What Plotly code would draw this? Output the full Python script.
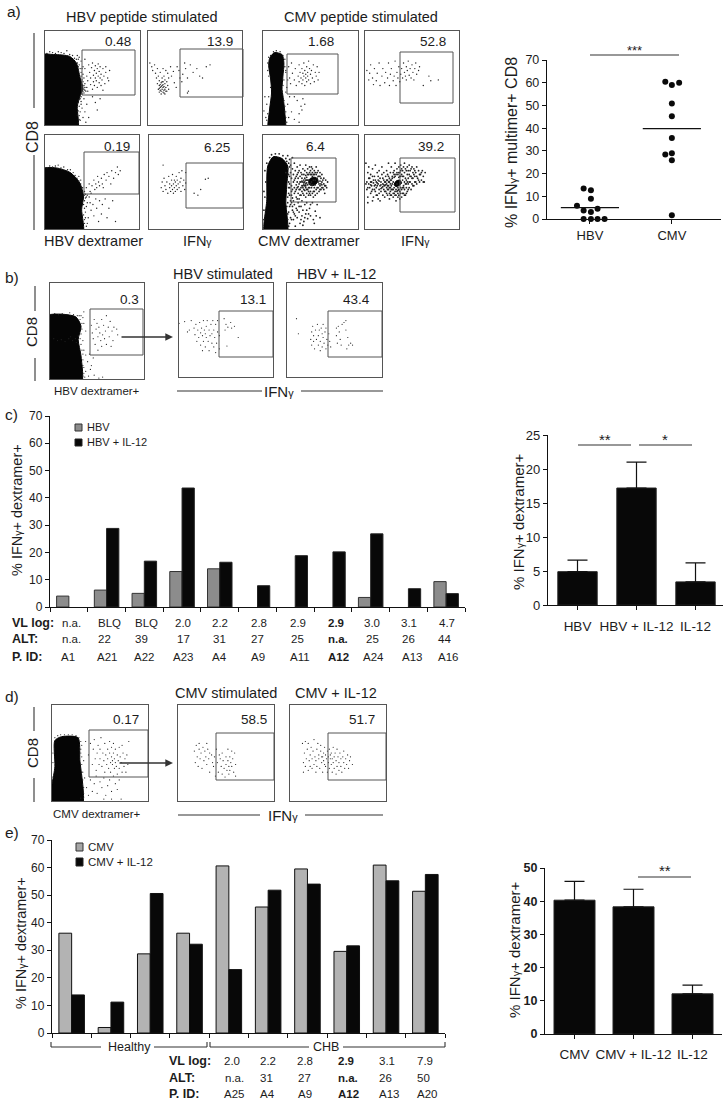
import plotly.graph_objects as go

W, H = 728, 1103
FONT = "Liberation Sans"
INK = "#1c1c1c"

# ---------- bar / scatter data ----------
C_CATS = list(range(11))
C_HBV = [4, 6.2, 5, 13, 14, None, None, None, 3.5, None, 9.3]
C_IL12 = [None, 28.8, 16.8, 43.6, 16.4, 7.8, 18.8, 20.2, 26.8, 6.7, 4.9]
E_CATS = list(range(10))
E_CMV = [36.2, 2, 28.7, 36.2, 60.6, 45.7, 59.5, 29.6, 60.9, 51.4]
E_IL12 = [13.8, 11.2, 50.6, 32.2, 23, 51.8, 54, 31.6, 55.2, 57.5]
C2_LABELS = ["HBV", "HBV + IL-12", "IL-12"]
C2_MEAN = [4.9, 17.2, 3.4]
C2_ERR = [1.7, 3.8, 2.8]
E2_LABELS = ["CMV", "CMV + IL-12", "IL-12"]
E2_MEAN = [40.3, 38.3, 12.1]
E2_ERR = [5.7, 5.3, 2.6]
HBV_X = [-0.077, 0.012, 0.012, -0.158, -0.077, 0.093, 0.012, -0.077, 0.012, 0.093, 0.179]
HBV_Y = [13.4, 12.7, 8.9, 5.8, 3.7, 4.5, 3.1, 0, 0, 0, 0]
CMV_X = [0.92, 1.0, 1.089, 1.0, 1.0, 1.0, 1.0, 0.92, 1.0, 1.0]
CMV_Y = [60.4, 59, 60, 50.9, 45.2, 35.7, 29, 28.4, 25.9, 1.6]
HBV_MEAN, CMV_MEAN = 5, 39.8

# table rows: (x px, text)
C_VL = [(71,"n.a."),(109,"BLQ"),(146,"BLQ"),(183,"2.0"),(220,"2.2"),(259,"2.8"),(298,"2.9"),(336,"<b>2.9</b>"),(372,"3.0"),(409,"3.1"),(447,"4.7")]
C_ALT = [(71,"n.a."),(104,"22"),(141,"39"),(183,"17"),(219,"31"),(257,"27"),(297,"25"),(338,"<b>n.a.</b>"),(372,"25"),(408,"26"),(444,"44")]
C_PID = [(68,"A1"),(107,"A21"),(144,"A22"),(183,"A23"),(219,"A4"),(258,"A9"),(300,"A11"),(338,"<b>A12</b>"),(374,"A24"),(412,"A13"),(448,"A16")]
E_VL = [(232,"2.0"),(268,"2.2"),(305,"2.8"),(346,"<b>2.9</b>"),(387,"3.1"),(425,"7.9")]
E_ALT = [(234,"n.a."),(266,"31"),(304,"27"),(348,"<b>n.a.</b>"),(385,"26"),(423,"50")]
E_PID = [(234,"A25"),(267,"A4"),(305,"A9"),(348,"<b>A12</b>"),(389,"A13"),(427,"A20")]

# ---------- flow cytometry read-offs (percent of panel width / height) ----------
P1_BLOB = [(-6,74),(9,75),(26,73),(33,66),(37,50),(40,39),(37,31),(34,20),(34,-6),(-6,-6)]
P3_BLOB = [(7,71),(12,77),(20,75),(22,66),(21,52),(20,38),(21,31),(23,13),(23,-6),(6,-6),(7,17),(9,34),(8,49),(6,63)]
P5_BLOB = [(-6,63),(12,65),(27,60),(37,49),(41,35),(39,21),(40,-6),(-6,-6)]
P7_BLOB = [(5,67),(11,77),(20,75),(26,67),(25,46),(24,28),(25,-6),(2,-6),(4,31)]
B1_BLOB = [(-6,65),(27,65),(33,55),(30,41),(33,24),(33,-6),(-6,-6)]
D1_BLOB = [(3,63),(10,67),(27,66),(29,43),(31,-6),(-1,-6),(3,36)]
P7_CORE = [(48,50),(50,54),(55,55),(58,52),(56,48),(52,46),(49,47)]
P8_CORE = [(31,47),(33,51),(37,52),(39,49),(36,46),(33,45)]

P1_DOTS = [(42,60),(44,52),(45,47),(46,64),(47,56),(48,43),(48,50),(49,61),(50,38),(50,66),(51,53),(51,46),(52,58),(52,42),(53,63),(53,50),(54,55),(54,47),(55,60),(55,40),(56,52),(56,65),(57,45),(57,57),(58,50),(58,62),(59,42),(59,54),(60,48),(61,60),(61,37),(62,52),(63,44),(64,56),(64,62),(66,50),(67,47),(68,58),(41,28),(44,22),(42,14),(46,8),(50,30),(53,24),(55,16),(58,28),(40,8),(43,3),(36,72),(34,74),(38,68),(42,70),(40,62),(38,56),(41,50),(42,44),(43,36),(41,34),(36,10),(37,5),(39,18),(38,25),(35,70),(39,60),(40,54),(44,40),(45,36),(42,37),(37,28),(38,22),
 (2,76),(5,78),(8,77),(11,76),(14,78),(17,77),(20,76),(23,79),(26,75),(29,74),(31,71),(33,70),(34,66),(36,64),(37,60),(35,62),(38,52),(39,48),(40,46),(41,42),(42,40),(40,36),(39,33),(38,30),(36,27),(35,24),(36,20),(35,15),(36,6),(35,2),(37,14),(34,10),(39,41),(41,38)]
P2_DOTS = [(2,66),(4,62),(5,58),(7,64),(8,55),(9,50),(10,60),(10,44),(11,38),(11,52),(12,42),(12,35),(12,47),(13,56),(13,40),(14,45),(14,36),(14,33),(15,50),(15,42),(15,38),(16,46),(16,35),(16,60),(17,41),(17,37),(17,52),(18,44),(18,33),(18,48),(19,40),(19,58),(20,36),(20,46),(21,42),(21,55),(22,38),(22,50),(24,62),(25,52),(27,57),(28,45),(30,40),(31,62),(33,58),(34,50),(36,46),(37,54),(39,66),(40,60),(42,50),(43,36),(45,64),(42,34),(52,60),(55,52),(62,62),(66,64),(58,50),(48,56),
 (13,43),(13,37),(15,46),(16,40),(17,34),(14,41),(18,38),(16,43),(19,36),(12,39)]
P3_DOTS = [(27,62),(28,50),(29,44),(30,66),(31,55),(33,48),(34,60),(35,42),(37,52),(38,64),(38,46),(39,56),(40,50),(41,60),(41,44),(42,55),(42,48),(43,66),(43,52),(44,58),(44,42),(45,50),(45,54),(46,46),(46,62),(47,56),(47,52),(48,48),(48,68),(49,60),(50,44),(50,54),(51,58),(52,50),(53,64),(54,46),(55,56),(56,52),(57,62),(58,48),(59,56),(28,30),(26,22),(30,14),(33,6),(36,26),(38,12),(40,20),(42,28),(41,16),(44,22),(27,8),(24,35),(25,40),(26,48),(24,56),(2,30),(1,15),(3,8),(33,30),(38,3),
 (5,66),(6,72),(8,74),(11,78),(14,79),(18,78),(21,74),(23,70),(23,62),(24,58),(22,48),(21,42),(20,36),(22,26),(23,20),(24,14),(24,8),(25,3),(4,22),(5,12),(4,5),(6,30),(8,40),(6,52),(5,58)]
P4_DOTS = [(2,58),(4,48),(6,64),(8,50),(10,60),(12,47),(13,55),(15,66),(16,42),(18,52),(19,60),(21,45),(22,56),(24,50),(25,66),(26,42),(27,54),(28,60),(30,47),(31,52),(32,68),(33,42),(34,56),(35,50),(36,62),(37,46),(38,54),(39,60),(40,50),(41,66),(42,56),(43,52),(44,62),(44,48),(45,58),(46,68),(47,53),(48,60),(49,50),(50,64),(51,56),(52,48),(53,60),(54,66),(55,54),(57,58),(58,62),(62,42),(70,47),(78,48),(68,52),(5,55),(9,43)]
P5_DOTS = [(42,40),(44,44),(45,36),(47,48),(48,40),(49,38),(50,46),(52,52),(53,42),(54,48),(55,44),(56,56),(57,50),(58,46),(60,54),(61,48),(62,44),(63,58),(65,52),(66,60),(68,56),(70,48),(71,62),(73,54),(75,60),(77,66),(78,58),(80,62),(42,30),(44,24),(43,18),(46,12),(45,6),(48,28),(49,20),(51,26),(52,14),(54,32),(55,22),(57,8),(58,30),(60,16),(61,26),(64,32),(66,12),(68,22),(72,30),(75,8),(43,33),(41,36),(40,44),(38,52),(36,56),(42,10),(44,3),(47,34),
 (2,65),(5,67),(8,66),(11,67),(14,68),(17,65),(20,66),(24,63),(27,63),(30,60),(32,57),(34,54),(36,51),(38,48),(39,44),(42,36),(43,37),(44,34),(41,26),(42,22),(41,15),(42,6),(43,12),(45,28)]
P6_DOTS = [(13,44),(14,50),(15,40),(16,54),(17,46),(18,42),(19,50),(20,38),(21,56),(22,44),(22,48),(23,40),(24,52),(24,46),(25,42),(25,58),(26,48),(26,38),(27,52),(27,44),(28,50),(28,40),(29,46),(29,56),(30,42),(30,52),(31,48),(32,60),(32,44),(33,50),(34,40),(34,54),(35,62),(36,46),(37,52),(38,42),(39,60),(39,49),(15,68),(52,36),(55,42),(60,53),(63,54),(48,38)]
P7_DOTS = [(26,64),(27,58),(27,50),(28,44),(28,36),(29,68),(29,60),(30,54),(30,46),(30,40),(31,33),(31,64),(32,50),(32,58),(33,44),(33,38),(33,70),(34,54),(34,62),(35,47),(35,34),(35,42),(36,58),(36,66),(36,50),(37,38),(37,45),(37,54),(38,62),(38,32),(38,48),(39,42),(39,56),(39,68),(40,50),(40,36),(40,60),(41,46),(41,54),(41,40),(41,30),(42,64),(42,50),(42,44),(43,58),(43,36),(43,52),(43,47),(44,62),(44,41),(44,54),(45,48),(45,34),(45,68),(45,44),(45,57),(46,52),(46,38),(46,60),(47,42),(47,47),(47,64),(48,36),(48,58),(48,40),(49,60),(49,38),(49,66),(50,40),(50,62),(50,36),(51,58),(51,44),(51,66),(52,38),(52,60),(52,64),(53,40),(53,34),(54,62),(54,40),(55,36),(55,60),(56,42),(56,66),(57,38),(57,60),(58,44),(58,62),(59,40),(59,56),(60,60),(60,46),(61,42),(61,54),(62,50),(62,58),(63,44),(64,54),(64,48),(65,38),(66,52),(67,44),(68,50),(26,28),(28,24),(27,18),(29,12),(28,6),(30,28),(31,20),(32,10),(33,26),(33,16),(34,3),(35,22),(36,12),(37,28),(38,18),(39,6),(40,24),(41,14),(42,20),(43,8),(44,26),(45,16),(46,28),(47,11),(49,22),(50,14),(52,28),(54,6),(55,19),(57,26),(60,12),(28,48),(27,38),(29,30),(25,72),(26,78),(28,74),(31,76),(1,20),(1,40),(2,62),
 (4,70),(7,76),(9,79),(13,80),(17,80),(21,78),(24,75),(27,70),(28,66),(28,56),(27,44),(26,34),(25,24),(26,16),(26,10),(27,3),(3,50),(2,34),(1,10),(24,60),(44,50),(46,55),(48,52),(43,49),(45,46),(49,44),(52,47),(55,47),(58,50),(60,56),(53,58),(50,58),(47,58),(42,46),(41,51),(62,47),(60,51),(57,54),(46,49),
 (30,36),(31,42),(32,30),(33,52),(34,40),(35,56),(36,44),(36,32),(37,60),(38,42),(39,36),(39,50),(40,44),(41,58),(42,38),(43,42),(44,46),(45,52),(46,42),(47,52),(48,44),(49,48),(50,48),(51,50),(52,56),(53,52),(54,44),(54,58),(55,52),(56,58),(57,44),(58,56),(59,48),(60,42),(61,48),(62,44),(63,52),(64,42),(65,46),(66,46),(29,26),(30,10),(31,24),(32,18),(34,14),(36,20),(38,24),(40,10),(42,4),(44,12),(46,20),(48,16),(50,26),(53,10),(56,14)]
P8_DOTS = [(1,70),(2,50),(2,42),(3,60),(3,34),(4,48),(4,66),(5,44),(5,54),(6,38),(6,58),(7,46),(7,50),(8,64),(8,42),(9,52),(9,34),(10,46),(10,56),(11,40),(11,68),(12,50),(12,44),(13,60),(13,36),(14,48),(14,52),(15,42),(15,62),(16,46),(16,54),(16,30),(17,50),(17,40),(18,58),(18,44),(18,66),(19,48),(19,36),(20,52),(20,42),(20,60),(21,46),(21,34),(22,50),(22,56),(22,40),(23,44),(23,62),(23,48),(24,36),(24,52),(24,58),(25,42),(25,46),(25,70),(26,50),(26,32),(26,54),(27,40),(27,60),(27,44),(28,52),(28,36),(28,66),(29,56),(29,42),(29,48),(30,60),(30,34),(30,50),(31,38),(31,58),(31,62),(32,40),(32,56),(32,70),(33,36),(33,58),(33,30),(34,60),(34,40),(34,64),(35,38),(35,58),(35,44),(36,66),(36,36),(36,60),(37,40),(37,56),(37,32),(38,62),(38,38),(38,68),(39,42),(39,58),(39,34),(40,62),(40,44),(40,52),(41,38),(41,66),(41,56),(42,42),(42,60),(42,70),(43,48),(43,54),(43,36),(44,62),(44,44),(44,52),(45,66),(45,40),(45,58),(46,48),(46,62),(46,54),(47,44),(47,68),(47,58),(48,50),(48,62),(49,42),(49,56),(50,66),(50,48),(51,60),(51,54),(52,46),(52,64),(53,56),(53,50),(54,60),(55,48),(55,66),(56,54),(57,62),(58,50),(59,58),(60,52),(61,62),(62,56),(63,50),(64,60),(3,28),(8,30),(14,32),
 (6,47),(9,49),(11,47),(13,49),(15,51),(17,47),(19,45),(21,50),(23,52),(25,50),(27,48),(28,46),(41,46),(42,50),(44,48),(29,54),(30,42),(35,41),(36,55),(38,56),(40,56),(31,55),(27,52),(24,46),(26,44),(22,47),
 (1,48),(3,44),(4,54),(6,50),(7,40),(8,56),(10,42),(11,52),(12,36),(13,46),(14,56),(15,38),(17,43),(19,54),(20,47),(21,40),(23,38),(24,42),(25,56),(26,38),(27,36),(28,42),(30,38),(31,44),(32,36),(33,42),(34,48),(35,34),(36,42),(37,60),(38,44),(39,64),(40,38),(41,44),(42,36),(43,64),(44,38),(45,50),(46,42),(47,50),(48,56),(49,64),(50,54),(51,46),(52,58),(53,62),(54,50),(55,56),(57,52),(58,58),(60,60),(62,50)]
B1_DOTS = [(36,58),(38,50),(44,56),(45,48),(46,42),(47,62),(48,36),(49,52),(50,58),(51,44),(51,30),(52,54),(53,48),(54,40),(55,62),(55,34),(56,46),(57,56),(58,42),(59,50),(60,66),(60,36),(62,54),(63,44),(64,60),(65,34),(66,50),(67,40),(68,54),(71,52),(72,46),(35,40),(36,30),(38,25),(40,18),(42,26),(44,14),(46,22),(38,8),(41,3),(43,10),(47,4),(36,12),(37,2),(56,2),(52,1),(35,64),(33,66),(31,66),(36,70),
 (2,67),(5,68),(9,67),(13,68),(17,67),(21,69),(25,67),(29,66),(32,62),(34,58),(34,52),(33,47),(32,42),(33,36),(34,30),(35,26),(35,20),(35,14),(36,6),(35,3),(30,45),(27,42),(24,40),(20,42),(16,39),(12,41),(8,40),(4,42),(28,38),(22,44)]
B2_DOTS = [(0,57),(6,59),(9,48),(11,50),(13,60),(16,52),(17,45),(18,56),(19,38),(20,50),(21,42),(22,58),(23,47),(23,34),(24,52),(25,28),(25,44),(26,60),(26,38),(27,50),(28,46),(28,32),(29,42),(29,54),(30,60),(31,38),(32,50),(32,28),(33,44),(34,56),(35,36),(35,46),(36,60),(37,32),(37,50),(38,42),(39,26),(39,56),(40,36),(41,48),(41,60),(43,44),(43,30),(48,62),(49,50),(50,56),(52,53),(55,58),(56,52),(59,54),(51,33),(63,42)]
B3_DOTS = [(10,62),(12,46),(25,40),(26,48),(26,34),(27,54),(28,44),(28,38),(29,30),(30,50),(31,40),(32,56),(33,44),(33,34),(34,50),(35,38),(35,28),(36,52),(37,46),(37,32),(38,42),(38,56),(39,36),(40,48),(41,30),(41,52),(42,40),(43,34),(44,46),(45,38),(46,32),(52,44),(52,52),(53,36),(54,54),(55,48),(56,40),(57,34),(58,56),(60,58),(62,50),(64,42),(65,34),(67,36),(62,60),(69,34),(63,30)]
D1_DOTS = [(30,50),(31,58),(33,42),(35,62),(38,48),(40,60),(42,38),(43,54),(44,64),(45,44),(46,32),(47,50),(48,58),(49,38),(50,54),(50,44),(51,66),(52,36),(53,50),(54,42),(55,60),(55,30),(56,48),(57,38),(58,54),(58,44),(59,34),(60,62),(60,50),(61,40),(61,30),(62,46),(62,56),(63,38),(63,42),(64,50),(64,60),(65,34),(65,44),(66,40),(66,54),(67,36),(68,48),(68,28),(69,42),(70,56),(70,34),(71,46),(72,40),(73,58),(73,30),(74,50),(75,36),(76,44),(77,30),(78,48),(79,38),(80,62),(34,24),(36,14),(38,6),(40,22),(42,10),(44,18),(46,26),(47,8),(50,20),(52,14),(54,24),(56,6),(58,16),(60,22),(62,10),(64,26),(66,18),(68,12),(70,22),(54,2),(62,2),(72,2),(33,4),(30,3),
 (3,66),(6,68),(9,69),(13,69),(17,69),(21,69),(25,68),(28,66),(30,62),(30,54),(31,46),(31,38),(32,30),(32,22),(33,14),(33,8),(1,40),(1,25),(1,50)]
D2_DOTS = [(17,52),(18,40),(19,58),(20,46),(21,36),(22,54),(22,60),(23,44),(24,50),(25,34),(26,56),(27,42),(28,52),(29,46),(30,38),(30,60),(31,54),(32,44),(33,30),(33,50),(35,48),(36,40),(37,36),(38,46),(39,26),(40,54),(41,40),(42,30),(43,48),(44,44),(45,36),(46,28),(46,50),(47,42),(48,34),(49,25),(50,46),(50,38),(51,32),(52,54),(52,42),(53,36),(53,28),(54,46),(54,32),(55,40),(56,52),(56,36),(57,44),(58,30),(59,50),(60,38),(60,26)]
D3_DOTS = [(13,60),(14,30),(14,40),(15,50),(16,36),(16,62),(17,44),(18,54),(19,32),(19,60),(20,42),(21,48),(21,36),(22,56),(23,34),(23,44),(24,52),(25,38),(25,64),(26,46),(27,30),(27,42),(28,54),(28,36),(29,60),(30,44),(30,48),(31,34),(32,52),(32,58),(33,40),(33,46),(34,30),(35,50),(35,42),(36,56),(37,36),(37,48),(38,44),(39,52),(39,30),(40,46),(40,40),(41,34),(41,54),(42,48),(42,44),(43,38),(43,50),(44,30),(44,44),(45,56),(45,40),(46,46),(46,34),(47,50),(48,42),(48,28),(49,36),(49,54),(50,46),(51,40),(51,32),(52,50),(53,36),(53,44),(54,30),(55,46),(56,40),(56,52),(57,34),(58,44),(59,38),(60,48),(61,34),(62,42),(63,46),(65,38),(36,38),(34,46)]

fig = go.Figure()
layout = {}
shapes = []
anns = []
ax_n = [0]

def px(X): return X / W
def py(Y): return 1 - Y / H

def text(X, Y, s, size=12, angle=0, anchor="center", color=INK):
    s = s.replace("<sub>γ</sub>", '<span style="font-size:%.1fpx">γ</span>' % (size * 0.72))
    anns.append(dict(x=px(X), y=py(Y), xref="paper", yref="paper", text=s, showarrow=False,
                     xanchor=anchor, yanchor="middle", textangle=angle,
                     font=dict(family=FONT, size=size, color=color)))

def line(x0, y0, x1, y1, color="#333333", width=1.1):
    shapes.append(dict(type="line", xref="paper", yref="paper", x0=px(x0), y0=py(y0), x1=px(x1), y1=py(y1),
                       line=dict(color=color, width=width)))

def rect(x0, y0, x1, y1, fill, edge, width=1):
    shapes.append(dict(type="rect", xref="paper", yref="paper", x0=px(x0), y0=py(y0), x1=px(x1), y1=py(y1),
                       fillcolor=fill, line=dict(color=edge, width=width)))

def arrow(x0, x1, Y):
    anns.append(dict(x=px(x1), y=py(Y), xref="paper", yref="paper", ax=x0 - x1, ay=0, text="", showarrow=True,
                     arrowhead=2, arrowsize=1.1, arrowwidth=1.4, arrowcolor="#333333"))

def new_axes(box, xcfg, ycfg):
    ax_n[0] += 1
    n = ax_n[0]
    x0, y0, x1, y1 = box
    sx = "" if n == 1 else str(n)
    layout["xaxis" + sx] = dict(domain=[px(x0), px(x1)], anchor="y" + sx, automargin=False, **xcfg)
    layout["yaxis" + sx] = dict(domain=[py(y1), py(y0)], anchor="x" + sx, automargin=False, **ycfg)
    return "x" + sx, "y" + sx

def panel(box, gate, label, label_xy, dots, blob=None, core=None, msize=1.4):
    cfg = dict(range=[0, 100], showgrid=False, zeroline=False, showticklabels=False, ticks="",
               showline=True, mirror=True, linecolor="#555555", linewidth=1)
    xa, ya = new_axes(box, dict(cfg), dict(cfg))
    for poly in (blob, core):
        if poly:
            fig.add_trace(go.Scatter(x=[p[0] for p in poly] + [poly[0][0]], y=[p[1] for p in poly] + [poly[0][1]],
                                     mode="lines", fill="toself", fillcolor="#050505",
                                     line=dict(color="#050505", width=1, shape="spline", smoothing=0.7),
                                     hoverinfo="skip", showlegend=False, xaxis=xa, yaxis=ya))
    fig.add_trace(go.Scatter(x=[p[0] for p in dots], y=[p[1] for p in dots], mode="markers",
                             marker=dict(size=msize, color="#222222", line=dict(width=0)),
                             showlegend=False, xaxis=xa, yaxis=ya))
    rect(*gate, "rgba(0,0,0,0)", "#555555", 1)
    text(*label_xy, label, size=13.5)

# ---------- panel a flow ----------
panel((45,31,140,125), (82,50,135,95), "0.48", (118,41), P1_DOTS, P1_BLOB)
panel((148,31,242,125), (180,49,243,97), "13.9", (220,41), P2_DOTS)
panel((263,31,358,125), (287,54,338,94), "1.68", (321,41), P3_DOTS, P3_BLOB)
panel((365,31,459,125), (400,52,453,103), "52.8", (433,41), P4_DOTS)
panel((45,135,139,229), (84,152,139,194), "0.19", (117,146), P5_DOTS, P5_BLOB)
panel((149,135,243,229), (186,163,243,208), "6.25", (217,147), P6_DOTS)
panel((263,135,358,229), (291,158,336,202), "6.4", (315,146), P7_DOTS, P7_BLOB, P7_CORE, 1.8)
panel((365,135,459,229), (400,158,455,212), "39.2", (431,146), P8_DOTS, None, P8_CORE, 1.8)

text(142,17,"HBV peptide stimulated",14.5)
text(361,17,"CMV peptide stimulated",14.5)
text(5,11,"a)",15.5,anchor="left")
text(32,137,"CD8",16,angle=-90)
line(34,33,34,108); line(34,155,34,230)
text(93,241,"HBV dextramer",14.5)
text(197,241,"IFN<sub>γ</sub>",14.5)
text(309,241,"CMV dextramer",14.5)
text(415,241,"IFN<sub>γ</sub>",14.5)

# ---------- panel a scatter ----------
xa, ya = new_axes((547,60,721,219),
    dict(range=[-0.524,1.6], tickvals=[0,1], ticktext=["HBV","CMV"], showgrid=False, zeroline=False, showline=True,
         linecolor="#111", linewidth=1.4, ticks="outside", ticklen=4, tickcolor="#111",
         tickfont=dict(family=FONT,size=13,color=INK)),
    dict(range=[0,70], tickvals=list(range(0,71,10)), showgrid=False, zeroline=False, showline=True,
         linecolor="#111", linewidth=1.4, ticks="outside", ticklen=4, tickcolor="#111",
         tickfont=dict(family=FONT,size=12.5,color=INK)))
mk = dict(size=6, color="#0a0a0a")
fig.add_trace(go.Scatter(x=HBV_X,y=HBV_Y,mode="markers",marker=mk,cliponaxis=False,showlegend=False,xaxis=xa,yaxis=ya,name="HBV"))
fig.add_trace(go.Scatter(x=CMV_X,y=CMV_Y,mode="markers",marker=mk,cliponaxis=False,showlegend=False,xaxis=xa,yaxis=ya,name="CMV"))
fig.add_trace(go.Scatter(x=[-0.355,0.355],y=[HBV_MEAN,HBV_MEAN],mode="lines",line=dict(color="#111",width=1.3),showlegend=False,xaxis=xa,yaxis=ya))
fig.add_trace(go.Scatter(x=[0.645,1.355],y=[CMV_MEAN,CMV_MEAN],mode="lines",line=dict(color="#111",width=1.3),showlegend=False,xaxis=xa,yaxis=ya))
line(590,55,679,55)
text(634,50,"***",13)
text(511,142,"% IFN<sub>γ</sub>+ multimer+ CD8",16,angle=-90)

# ---------- panel b ----------
panel((50,283,144,379), (90,309,143,355), "0.3", (129,299), B1_DOTS, B1_BLOB, None, 1.2)
panel((179,283,273,377), (219,311,273,357), "13.1", (253,299), B2_DOTS, None, None, 1.2)
panel((287,283,382,377), (328,311,382,357), "43.4", (356,299), B3_DOTS, None, None, 1.2)
text(3,277,"b)",15.5,anchor="left")
text(223,274,"HBV stimulated",14.5)
text(336,274,"HBV + IL-12",14.5)
text(32,332,"CD8",15,angle=-90)
line(35,286,35,311); line(35,358,35,381)
text(97,391,"HBV dextramer+",11.5)
text(279,391,"IFN<sub>γ</sub>",15)
line(177,391,262,391); line(301,391,383,391)
arrow(120,173,337)

# ---------- panel c ----------
def bar_axes(box, rng, yrange, ydtick, xticks, xtext=None, ybold=False, ysize=12, standoff=None):
    xc = dict(range=rng, tickvals=xticks, showgrid=False, zeroline=False, showline=True, linecolor="#111", linewidth=1.3,
              ticks="outside", ticklen=4, tickcolor="#111")
    if xtext:
        xc.update(ticktext=xtext, tickfont=dict(family=FONT,size=13.5,color=INK), ticklabelstandoff=standoff or 0)
    else:
        xc.update(showticklabels=False)
    yc = dict(range=yrange, tick0=0, dtick=ydtick, showgrid=False, zeroline=False, showline=True, linecolor="#111", linewidth=1.3,
              ticks="outside", ticklen=4, tickcolor="#111",
              tickfont=dict(family=FONT,size=ysize,color=INK,weight="bold" if ybold else "normal"))
    return new_axes(box, xc, yc)

xa, ya = bar_axes((50,416,465,607), [-0.5,10.5], [0,70], 10, [i-0.5 for i in range(12)])
fig.add_trace(go.Bar(x=C_CATS,y=C_HBV,name="HBV",marker=dict(color="#8c8c8c",line=dict(color="#333",width=1)),showlegend=False,xaxis=xa,yaxis=ya))
fig.add_trace(go.Bar(x=C_CATS,y=C_IL12,name="HBV + IL-12",marker=dict(color="#080808",line=dict(color="#222",width=1)),showlegend=False,xaxis=xa,yaxis=ya))
text(3,415,"c)",15.5,anchor="left")
text(17,510,"% IFN<sub>γ</sub>+ dextramer+",14.5,angle=-90)
rect(75,424,82,431,"#8c8c8c","#333")
rect(75,439,82,446,"#080808","#222")
text(85,427,"HBV",11,anchor="left")
text(85,442,"HBV + IL-12",11,anchor="left")
for Y, row, lab in ((623,C_VL,"VL log:"),(639,C_ALT,"ALT:"),(657,C_PID,"P. ID:")):
    text(10,Y,"<b>%s</b>"%lab,12.5,anchor="left")
    for X,s in row:
        text(X,Y,s,11.5)

# right bar c
xa, ya = bar_axes((548,435,723,605), [-0.5,2.466], [0,25], 5, [0,1,2], C2_LABELS, False, 13, 5)
fig.add_trace(go.Bar(x=[0,1,2],y=C2_MEAN,width=0.667,marker=dict(color="#080808",line=dict(color="#222",width=1)),
                     error_y=dict(type="data",array=C2_ERR,arrayminus=[0,0,0],symmetric=False,color="#111",thickness=1.2,width=10),
                     showlegend=False,xaxis=xa,yaxis=ya))
line(578,445,631,445); line(639,445,692,445)
text(605,439,"**",15); text(665,439,"*",15)
text(518,522,"% IFN<sub>γ</sub>+ dextramer+",15,angle=-90)

# ---------- panel d ----------
panel((52,705,148,801), (89,730,148,777), "0.17", (126,719), D1_DOTS, D1_BLOB, None, 1.2)
panel((178,705,274,801), (216,733,274,780), "58.5", (254,719), D2_DOTS, None, None, 1.2)
panel((290,705,386,801), (328,733,386,780), "51.7", (362,719), D3_DOTS, None, None, 1.2)
text(3,696,"d)",15.5,anchor="left")
text(226,693,"CMV stimulated",14.5)
text(336,693,"CMV + IL-12",14.5)
text(32,753,"CD8",15,angle=-90)
line(34,707,34,731); line(34,778,34,802)
text(97,814,"CMV dextramer+",11.5)
text(283,815,"IFN<sub>γ</sub>",15)
line(178,815,260,815); line(305,815,383,815)
arrow(118,173,763)

# ---------- panel e ----------
xa, ya = bar_axes((52,840,445,1033), [-0.5,9.5], [0,70], 10, [i-0.5 for i in range(11)])
fig.add_trace(go.Bar(x=E_CATS,y=E_CMV,name="CMV",marker=dict(color="#b3b3b3",line=dict(color="#111",width=1)),showlegend=False,xaxis=xa,yaxis=ya))
fig.add_trace(go.Bar(x=E_CATS,y=E_IL12,name="CMV + IL-12",marker=dict(color="#080808",line=dict(color="#111",width=1)),showlegend=False,xaxis=xa,yaxis=ya))
text(3,832,"e)",15.5,anchor="left")
text(21,943,"% IFN<sub>γ</sub>+ dextramer+",14.5,angle=-90)
rect(76,843,83,851,"#a6a6a6","#333")
rect(76,858,83,866,"#080808","#222")
text(86,847,"CMV",11.5,anchor="left")
text(86,862,"CMV + IL-12",11.5,anchor="left")
line(51,1042,51,1047); line(51,1047,101,1047); line(154,1047,207,1047); line(207,1042,207,1047)
text(129,1047,"Healthy",12.5)
line(210,1042,210,1047); line(210,1047,309,1047); line(343,1047,445,1047); line(445,1042,445,1047)
text(326,1047,"CHB",12.5)
for Y, row, lab in ((1061,E_VL,"VL log:"),(1078,E_ALT,"ALT:"),(1094,E_PID,"P. ID:")):
    text(167,Y,"<b>%s</b>"%lab,12.5,anchor="left")
    for X,s in row:
        text(X,Y,s,11.5)

# right bar e
xa, ya = bar_axes((545,868,722,1034), [-0.5,2.5], [0,50], 10, [0,1,2], E2_LABELS, True, 12.5, 4)
fig.add_trace(go.Bar(x=[0,1,2],y=E2_MEAN,width=0.695,marker=dict(color="#080808",line=dict(color="#222",width=1)),
                     error_y=dict(type="data",array=E2_ERR,arrayminus=[0,0,0],symmetric=False,color="#111",thickness=1.2,width=10),
                     showlegend=False,xaxis=xa,yaxis=ya))
line(638,877,691,877)
text(665,870,"**",15)
text(514,950,"% IFN<sub>γ</sub>+ dextramer+",15,angle=-90)

fig.update_layout(width=W, height=H, autosize=False, margin=dict(l=0,r=0,t=0,b=0,autoexpand=False),
                  paper_bgcolor="white", plot_bgcolor="white", barmode="group", bargap=0.35, bargroupgap=0,
                  shapes=shapes, annotations=anns, showlegend=False, **layout)
fig.write_html("out.html", config=dict(displayModeBar=False),
               post_script="document.body.style.margin='0';document.body.style.overflow='hidden';")
